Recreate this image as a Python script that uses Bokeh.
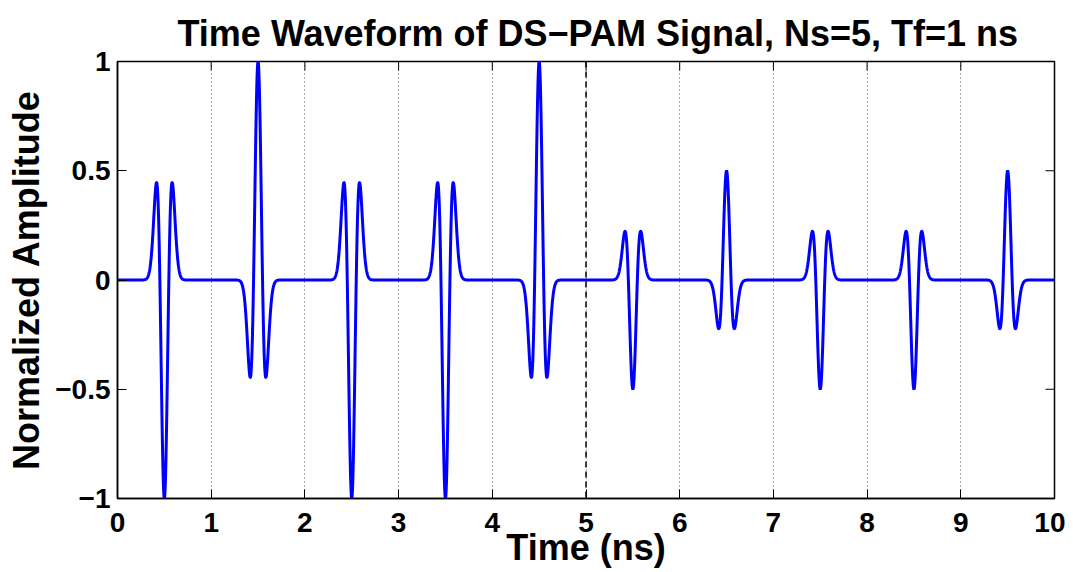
import numpy as np
from bokeh.plotting import figure
from bokeh.models import Span, FixedTicker, Range1d, ColumnDataSource
from bokeh.embed import file_html
from bokeh.resources import INLINE

# ---- data ----
frame_amplitudes = [-1.0, 1.0, -1.0, -1.0, 1.0, -0.5, 0.5, -0.5, -0.5, 0.5]  # per 1 ns frame
frame_period_ns = 1.0
pulse_center_in_frame = 0.5
pulse_tau_ns = 0.17   # Gaussian 2nd-derivative pulse width
x_ticks = [0, 1, 2, 3, 4, 5, 6, 7, 8, 9, 10]
y_ticks = [-1, -0.5, 0, 0.5, 1]
y_tick_labels = {-1: "\u22121", -0.5: "\u22120.5", 0: "0", 0.5: "0.5", 1: "1"}
x_min, x_max = 0, 10
y_min, y_max = -1, 1
divider_x = 5
title_text = "Time Waveform of DS\u2212PAM Signal, Ns=5, Tf=1 ns"
x_label = "Time (ns)"
y_label = "Normalized Amplitude"

# ---- waveform built from the pulse model and the frame amplitudes ----
t = np.linspace(x_min, x_max, 5001)
s = np.zeros_like(t)
for k, a in enumerate(frame_amplitudes):
    u = (t - (k * frame_period_ns + pulse_center_in_frame)) / pulse_tau_ns
    s += a * (1 - 4 * np.pi * u ** 2) * np.exp(-2 * np.pi * u ** 2)
src = ColumnDataSource(dict(t=t, s=s))

FONT = "Liberation Sans"

p = figure(width=1065, height=572, output_backend="svg", toolbar_location=None,
           x_range=Range1d(x_min, x_max), y_range=Range1d(y_min, y_max),
           min_border_left=117, min_border_right=11, min_border_top=61, min_border_bottom=74)

p.background_fill_color = "white"
p.border_fill_color = "white"
p.outline_line_color = "black"
p.outline_line_width = 1.5

p.title.text = title_text
p.title.align = "left"
p.title.offset = 60
p.title.standoff = 16
p.title.text_font = FONT
p.title.text_font_style = "bold"
p.title.text_font_size = "36px"
p.title.text_color = "black"

for ax in (p.xaxis[0], p.yaxis[0]):
    ax.axis_line_color = "black"
    ax.axis_line_width = 1.5
    ax.major_tick_in = 9
    ax.major_tick_out = 0
    ax.minor_tick_line_color = None
    ax.major_tick_line_color = "black"
    ax.major_tick_line_width = 1
    ax.major_label_text_font = FONT
    ax.major_label_text_font_style = "bold"
    ax.major_label_text_font_size = "28px"
    ax.major_label_text_color = "black"
    ax.axis_label_text_font = FONT
    ax.axis_label_text_font_style = "bold"
    ax.axis_label_text_font_size = "36px"
    ax.axis_label_text_color = "black"

p.xaxis.ticker = FixedTicker(ticks=x_ticks)
p.yaxis.ticker = FixedTicker(ticks=y_ticks)
p.yaxis.major_label_overrides = y_tick_labels
p.xaxis.axis_label = x_label
p.yaxis.axis_label = y_label
p.xaxis.major_label_standoff = 14
p.yaxis.major_label_standoff = 7
p.xaxis.axis_label_standoff = -8
p.yaxis.axis_label_standoff = 5

# top and right inward tick marks (MATLAB box), clipped to the frame
p.scatter(x=x_ticks, y=[y_max] * len(x_ticks), marker="dash", size=18, angle=np.pi / 2,
          line_color="black", line_width=1)
p.scatter(x=[x_max] * len(y_ticks), y=y_ticks, marker="dash", size=18,
          line_color="black", line_width=1)

p.xgrid.ticker = FixedTicker(ticks=x_ticks)
p.xgrid.grid_line_color = "#555555"
p.xgrid.grid_line_dash = "1 3"
p.xgrid.grid_line_width = 1
p.ygrid.grid_line_color = None

p.line("t", "s", source=src, line_color="#0000FF", line_width=3)

p.add_layout(Span(location=divider_x, dimension="height", line_color="black",
                  line_dash="6 4", line_width=1.5))

open("out.html", "w").write(file_html(p, INLINE))
